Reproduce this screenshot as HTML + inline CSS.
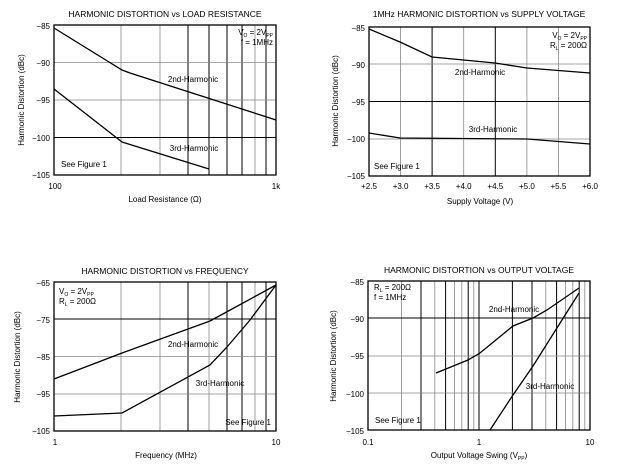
<!DOCTYPE html>
<html><head><style>
body{margin:0;background:#fff}
svg{display:block}
text{font-family:"Liberation Sans",sans-serif;fill:#000}
.t{font-size:8.5px}
.k{font-size:8px}
.g{stroke:#888;stroke-width:0.8}
.G{stroke:#000;stroke-width:1}
.c{fill:none;stroke:#000;stroke-width:1.3}
.b{fill:none;stroke:#000;stroke-width:1.3}
</style></head><body>
<svg width="620" height="469" viewBox="0 0 620 469">
<!-- Chart 1 -->
<g>
<text class="t" x="165" y="17" text-anchor="middle">HARMONIC DISTORTION vs LOAD RESISTANCE</text>
<line class="g" x1="121" y1="25" x2="121" y2="175"/>
<line class="g" x1="160" y1="25" x2="160" y2="175"/>
<line class="G" x1="188" y1="25" x2="188" y2="175"/>
<line class="G" x1="209" y1="25" x2="209" y2="175"/>
<line class="G" x1="227" y1="25" x2="227" y2="175"/>
<line class="G" x1="242" y1="25" x2="242" y2="175"/>
<line class="g" x1="255" y1="25" x2="255" y2="175"/>
<line class="G" x1="266" y1="25" x2="266" y2="175"/>
<line class="g" x1="54" y1="62.5" x2="276" y2="62.5"/>
<line class="g" x1="54" y1="100" x2="276" y2="100"/>
<line class="G" x1="54" y1="137.5" x2="276" y2="137.5"/>
<rect class="b" x="54" y="25" width="222" height="150"/>
<polyline class="c" points="54,28 122,70 130,73 276,120"/>
<polyline class="c" points="54,89 122,142 209,169"/>
<text class="k" x="50" y="29" text-anchor="end">−85</text>
<text class="k" x="50" y="66" text-anchor="end">−90</text>
<text class="k" x="50" y="103" text-anchor="end">−95</text>
<text class="k" x="50" y="141" text-anchor="end">−100</text>
<text class="k" x="50" y="178" text-anchor="end">−105</text>
<text class="k" x="55" y="189" text-anchor="middle">100</text>
<text class="k" x="276" y="189" text-anchor="middle">1k</text>
<text class="k" x="165" y="202" text-anchor="middle">Load Resistance (Ω)</text>
<text class="k" transform="translate(24,100) rotate(-90)" text-anchor="middle">Harmonic Distortion (dBc)</text>
<text class="k" x="193" y="82" text-anchor="middle">2nd-Harmonic</text>
<text class="k" x="194" y="151" text-anchor="middle">3rd-Harmonic</text>
<text class="k" x="61" y="167">See Figure 1</text>
<text class="k" x="273" y="35" text-anchor="end">V<tspan font-size="5" dy="2">O</tspan><tspan dy="-2"> = 2V</tspan><tspan font-size="5" dy="2">PP</tspan></text>
<text class="k" x="273" y="45" text-anchor="end">f = 1MHz</text>
</g>
<!-- Chart 2 -->
<g>
<text class="t" x="479" y="17" text-anchor="middle">1MHz HARMONIC DISTORTION vs SUPPLY VOLTAGE</text>
<line class="g" x1="400.6" y1="27" x2="400.6" y2="176"/>
<line class="G" x1="432.1" y1="27" x2="432.1" y2="176"/>
<line class="g" x1="463.7" y1="27" x2="463.7" y2="176"/>
<line class="G" x1="495.3" y1="27" x2="495.3" y2="176"/>
<line class="g" x1="526.9" y1="27" x2="526.9" y2="176"/>
<line class="g" x1="558.4" y1="27" x2="558.4" y2="176"/>
<line class="g" x1="369" y1="64" x2="590" y2="64"/>
<line class="G" x1="369" y1="101.5" x2="590" y2="101.5"/>
<line class="g" x1="369" y1="139" x2="590" y2="139"/>
<rect class="b" x="369" y="27" width="221" height="149"/>
<polyline class="c" points="369,29 400,42 432,57 495,63 527,68 590,73"/>
<polyline class="c" points="369,133 400,138 527,139 590,144"/>
<text class="k" x="365" y="31" text-anchor="end">−85</text>
<text class="k" x="365" y="68" text-anchor="end">−90</text>
<text class="k" x="365" y="105" text-anchor="end">−95</text>
<text class="k" x="365" y="142" text-anchor="end">−100</text>
<text class="k" x="365" y="179" text-anchor="end">−105</text>
<g text-anchor="middle">
<text class="k" x="369" y="189">+2.5</text><text class="k" x="400.6" y="189">+3.0</text>
<text class="k" x="432.1" y="189">+3.5</text><text class="k" x="463.7" y="189">+4.0</text>
<text class="k" x="495.3" y="189">+4.5</text><text class="k" x="526.9" y="189">+5.0</text>
<text class="k" x="558.4" y="189">+5.5</text><text class="k" x="590" y="189">+6.0</text>
</g>
<text class="k" x="480" y="204" text-anchor="middle">Supply Voltage (V)</text>
<text class="k" transform="translate(338,101) rotate(-90)" text-anchor="middle">Harmonic Distortion (dBc)</text>
<text class="k" x="480" y="75" text-anchor="middle">2nd-Harmonic</text>
<text class="k" x="493" y="132" text-anchor="middle">3rd-Harmonic</text>
<text class="k" x="374" y="169">See Figure 1</text>
<text class="k" x="587" y="38" text-anchor="end">V<tspan font-size="5" dy="2">O</tspan><tspan dy="-2"> = 2V</tspan><tspan font-size="5" dy="2">PP</tspan></text>
<text class="k" x="587" y="48" text-anchor="end">R<tspan font-size="5" dy="2">L</tspan><tspan dy="-2"> = 200Ω</tspan></text>
</g>
<!-- Chart 3 -->
<g>
<text class="t" x="165" y="274" text-anchor="middle">HARMONIC DISTORTION vs FREQUENCY</text>
<line class="g" x1="121" y1="282" x2="121" y2="431"/>
<line class="g" x1="160" y1="282" x2="160" y2="431"/>
<line class="G" x1="188" y1="282" x2="188" y2="431"/>
<line class="g" x1="209" y1="282" x2="209" y2="431"/>
<line class="G" x1="227" y1="282" x2="227" y2="431"/>
<line class="G" x1="242" y1="282" x2="242" y2="431"/>
<line class="g" x1="255" y1="282" x2="255" y2="431"/>
<line class="G" x1="266" y1="282" x2="266" y2="431"/>
<line class="G" x1="54" y1="319" x2="276" y2="319"/>
<line class="g" x1="54" y1="356.5" x2="276" y2="356.5"/>
<line class="g" x1="54" y1="394" x2="276" y2="394"/>
<rect class="b" x="54" y="282" width="222" height="149"/>
<polyline class="c" points="54,379 122,353 210,321 276,285"/>
<polyline class="c" points="54,416 122,413 210,365 227,347 250,320 276,285"/>
<text class="k" x="50" y="286" text-anchor="end">−65</text>
<text class="k" x="50" y="323" text-anchor="end">−75</text>
<text class="k" x="50" y="360" text-anchor="end">−85</text>
<text class="k" x="50" y="397" text-anchor="end">−95</text>
<text class="k" x="50" y="434" text-anchor="end">−105</text>
<text class="k" x="55" y="445" text-anchor="middle">1</text>
<text class="k" x="276" y="445" text-anchor="middle">10</text>
<text class="k" x="166" y="458" text-anchor="middle">Frequency (MHz)</text>
<text class="k" transform="translate(20,357) rotate(-90)" text-anchor="middle">Harmonic Distortion (dBc)</text>
<text class="k" x="193" y="347" text-anchor="middle">2nd-Harmonic</text>
<text class="k" x="220" y="386" text-anchor="middle">3rd-Harmonic</text>
<text class="k" x="271" y="425" text-anchor="end">See Figure 1</text>
<text class="k" x="59" y="294">V<tspan font-size="5" dy="2">O</tspan><tspan dy="-2"> = 2V</tspan><tspan font-size="5" dy="2">PP</tspan></text>
<text class="k" x="59" y="304">R<tspan font-size="5" dy="2">L</tspan><tspan dy="-2"> = 200Ω</tspan></text>
</g>
<!-- Chart 4 -->
<g>
<text class="t" x="479" y="273" text-anchor="middle">HARMONIC DISTORTION vs OUTPUT VOLTAGE</text>
<line class="g" x1="401.4" y1="281" x2="401.4" y2="430"/>
<line class="G" x1="421" y1="281" x2="421" y2="430"/>
<line class="g" x1="434.8" y1="281" x2="434.8" y2="430"/>
<line class="G" x1="445.6" y1="281" x2="445.6" y2="430"/>
<line class="g" x1="454.4" y1="281" x2="454.4" y2="430"/>
<line class="g" x1="461.8" y1="281" x2="461.8" y2="430"/>
<line class="G" x1="468.2" y1="281" x2="468.2" y2="430"/>
<line class="g" x1="473.8" y1="281" x2="473.8" y2="430"/>
<line class="G" x1="479" y1="281" x2="479" y2="430"/>
<line class="G" x1="512.4" y1="281" x2="512.4" y2="430"/>
<line class="G" x1="532" y1="281" x2="532" y2="430"/>
<line class="g" x1="545.8" y1="281" x2="545.8" y2="430"/>
<line class="G" x1="556.6" y1="281" x2="556.6" y2="430"/>
<line class="g" x1="565.4" y1="281" x2="565.4" y2="430"/>
<line class="g" x1="572.8" y1="281" x2="572.8" y2="430"/>
<line class="G" x1="579.2" y1="281" x2="579.2" y2="430"/>
<line class="g" x1="584.8" y1="281" x2="584.8" y2="430"/>
<line class="G" x1="368" y1="318" x2="590" y2="318"/>
<line class="g" x1="368" y1="356" x2="590" y2="356"/>
<line class="g" x1="368" y1="393" x2="590" y2="393"/>
<rect class="b" x="368" y="281" width="222" height="149"/>
<polyline class="c" points="436,373 468,360 480,353 513,326 533,318 547,310 579,288"/>
<polyline class="c" points="490,430 513,395 533,366 579,293"/>
<text class="k" x="364" y="285" text-anchor="end">−85</text>
<text class="k" x="364" y="322" text-anchor="end">−90</text>
<text class="k" x="364" y="359" text-anchor="end">−95</text>
<text class="k" x="364" y="397" text-anchor="end">−100</text>
<text class="k" x="364" y="434" text-anchor="end">−105</text>
<text class="k" x="368" y="445" text-anchor="middle">0.1</text>
<text class="k" x="479" y="445" text-anchor="middle">1</text>
<text class="k" x="590" y="445" text-anchor="middle">10</text>
<text class="k" x="479" y="458" text-anchor="middle">Output Voltage Swing (V<tspan font-size="5" dy="2">PP</tspan><tspan dy="-2">)</tspan></text>
<text class="k" transform="translate(336,356) rotate(-90)" text-anchor="middle">Harmonic Distortion (dBc)</text>
<text class="k" x="514" y="312" text-anchor="middle">2nd-Harmonic</text>
<text class="k" x="550" y="389" text-anchor="middle">3rd-Harmonic</text>
<text class="k" x="375" y="423">See Figure 1</text>
<text class="k" x="374" y="290">R<tspan font-size="5" dy="2">L</tspan><tspan dy="-2"> = 200Ω</tspan></text>
<text class="k" x="374" y="300">f = 1MHz</text>
</g>
</svg>
</body></html>
